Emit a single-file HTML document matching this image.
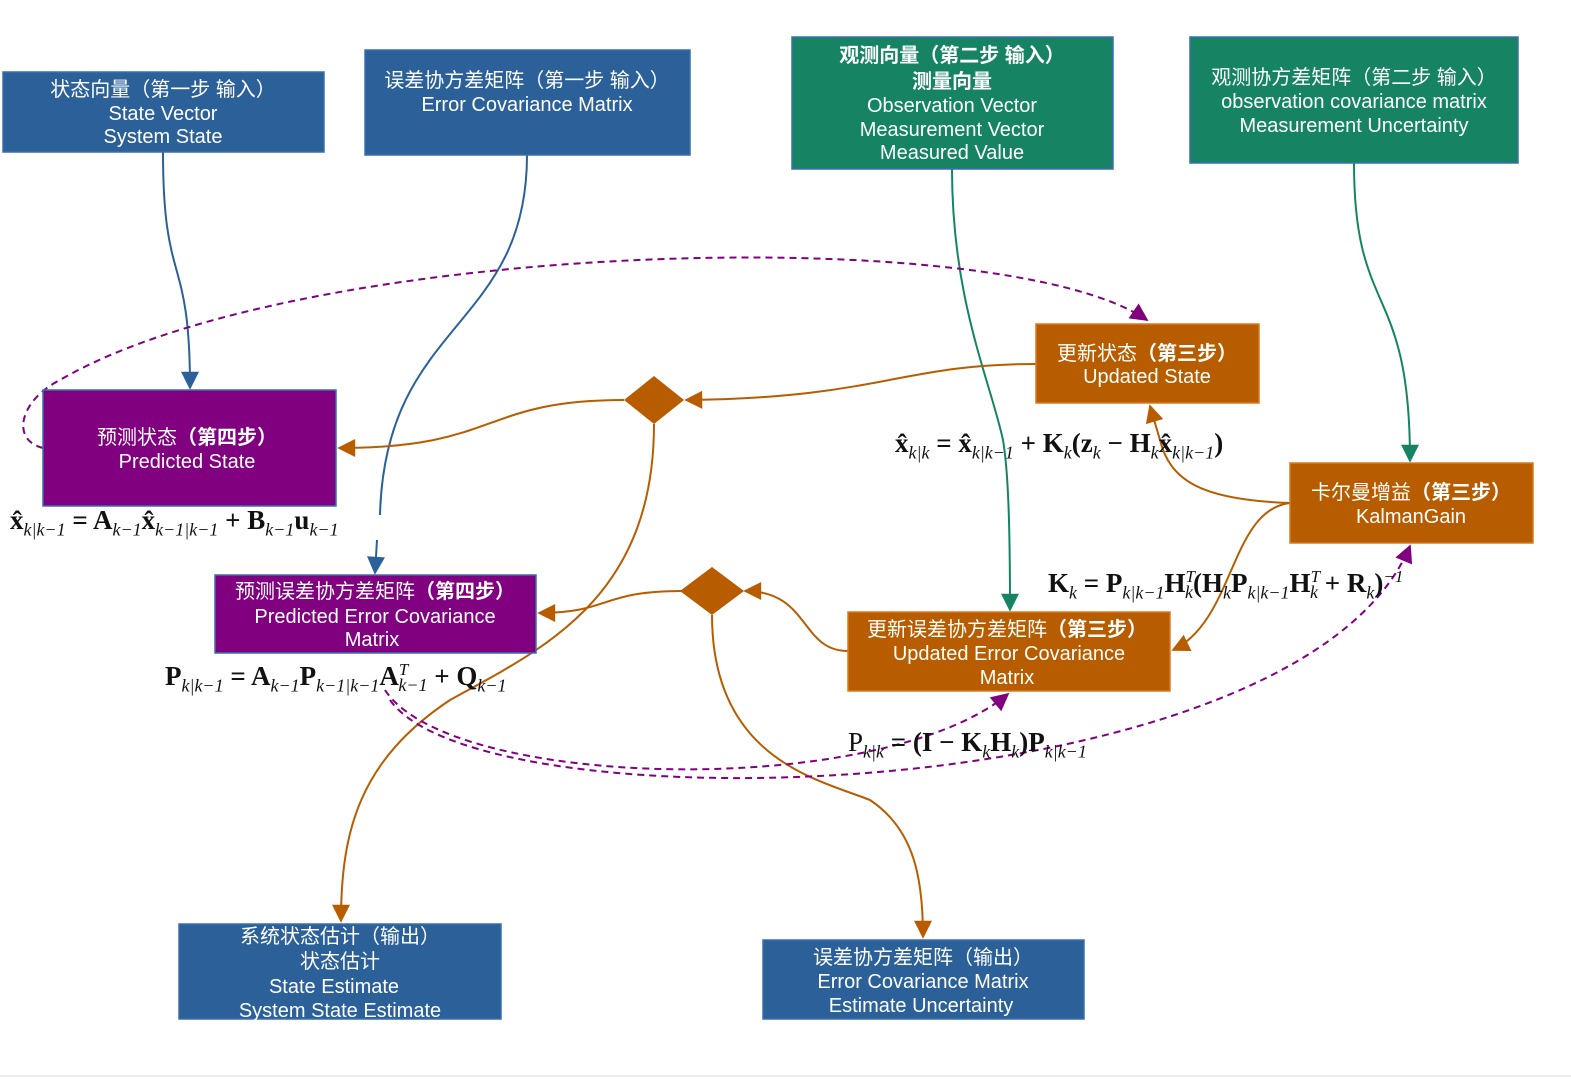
<!DOCTYPE html>
<html><head><meta charset="utf-8"><style>
body{margin:0;background:#fff;width:1571px;height:1086px;overflow:hidden;position:relative;font-family:"Liberation Sans","Noto Sans CJK SC",sans-serif}
.f{position:absolute;font-family:"Liberation Serif","DejaVu Serif",serif;font-size:27px;white-space:nowrap;color:#111;font-weight:bold}
.f i{font-weight:normal;font-size:18px}
.f sub{font-size:18px;font-style:italic;font-weight:normal}
.f sup{font-size:17px;font-style:italic;font-weight:normal}
</style></head><body>
<svg width="1571" height="1086" style="position:absolute;left:0;top:0">
<defs>
<marker id="ab" markerWidth="10" markerHeight="10" refX="9" refY="5" orient="auto" markerUnits="userSpaceOnUse" viewBox="0 0 10 10"><path d="M0,0L10,5L0,10z" fill="#2b6099"/></marker>
<marker id="ag" viewBox="0 0 10 10" refX="9" refY="5" markerWidth="20" markerHeight="18" orient="auto" markerUnits="userSpaceOnUse"><path d="M0,0L10,5L0,10z" fill="#168463"/></marker>
<marker id="ao" viewBox="0 0 10 10" refX="9" refY="5" markerWidth="20" markerHeight="18" orient="auto" markerUnits="userSpaceOnUse"><path d="M0,0L10,5L0,10z" fill="#b85c00"/></marker>
<marker id="ap" viewBox="0 0 10 10" refX="9" refY="5" markerWidth="20" markerHeight="18" orient="auto" markerUnits="userSpaceOnUse"><path d="M0,0L10,5L0,10z" fill="#800080"/></marker>
<marker id="ab2" viewBox="0 0 10 10" refX="9" refY="5" markerWidth="20" markerHeight="18" orient="auto" markerUnits="userSpaceOnUse"><path d="M0,0L10,5L0,10z" fill="#2b6099"/></marker>
</defs>
<g fill="none" stroke-width="2">
<path d="M163,152 C163,290 190,250 190,388" stroke="#2b6099" marker-end="url(#ab2)"/>
<path d="M527,155 C527,330 385,320 380,515" stroke="#2b6099"/>
<path d="M377,540 L375,573" stroke="#2b6099" marker-end="url(#ab2)"/>
<path d="M952,169 C952,300 990,380 1003,440 C1008,470 1010,520 1010,610" stroke="#168463" marker-end="url(#ag)"/>
<path d="M1354,163 C1354,320 1410,280 1410,461" stroke="#168463" marker-end="url(#ag)"/>
<path d="M1036,364 C900,364 880,398 686,400" stroke="#b85c00" marker-end="url(#ao)"/>
<path d="M624,400 C480,400 500,448 339,448" stroke="#b85c00" marker-end="url(#ao)"/>
<path d="M654,424 C654,600 540,650 450,700 C360,760 341,830 341,921" stroke="#b85c00" marker-end="url(#ao)"/>
<path d="M1290,503 C1200,500 1170,480 1160,440 L1150,406" stroke="#b85c00" marker-end="url(#ao)"/>
<path d="M1290,503 C1230,510 1235,620 1173,650" stroke="#b85c00" marker-end="url(#ao)"/>
<path d="M848,651 C800,651 810,591 745,591" stroke="#b85c00" marker-end="url(#ao)"/>
<path d="M682,591 C600,591 610,613 539,613" stroke="#b85c00" marker-end="url(#ao)"/>
<path d="M712,615 C712,760 820,780 870,800 C915,830 923,880 923,937" stroke="#b85c00" marker-end="url(#ao)"/>
<g stroke="#800080" stroke-dasharray="7,5">
<path d="M43,448 C10,440 20,400 60,380 C300,240 1000,220 1147,320" marker-end="url(#ap)"/>
<path d="M385,690 C450,790 880,800 1008,694" marker-end="url(#ap)"/>
<path d="M390,700 C480,830 1300,810 1410,546" marker-end="url(#ap)"/>
</g>
</g>
<path d="M654,376L684,400L654,424L624,400z" fill="#b85c00"/>
<path d="M712,567L744,591L712,615L680,591z" fill="#b85c00"/>
<g stroke="#3a6fb0" stroke-width="1.5">
<rect x="3" y="72" width="321" height="80" fill="#2b6099"/>
<rect x="365" y="50" width="325" height="105" fill="#2b6099"/>
<rect x="792" y="37" width="321" height="132" fill="#168463"/>
<rect x="1190" y="37" width="328" height="126" fill="#168463"/>
<rect x="43" y="390" width="293" height="116" fill="#800080"/>
<rect x="215" y="575" width="321" height="78" fill="#800080"/>
<rect x="179" y="924" width="322" height="95" fill="#2b6099"/>
<rect x="763" y="940" width="321" height="79" fill="#2b6099"/>
</g>
<g stroke="#d97a20" stroke-width="1.5">
<rect x="1036" y="324" width="223" height="79" fill="#b85c00"/>
<rect x="1290" y="463" width="243" height="80" fill="#b85c00"/>
<rect x="848" y="612" width="322" height="79" fill="#b85c00"/>
</g>
<g fill="#fff" font-size="20" text-anchor="middle" font-family="Liberation Sans,Noto Sans CJK SC,sans-serif">
<text x="163" y="96">状态向量（第一步 输入）</text><text x="163" y="120">State Vector</text><text x="163" y="143">System State</text>
<text x="527" y="87">误差协方差矩阵（第一步  输入）</text><text x="527" y="111">Error Covariance Matrix</text>
<text x="952" y="62" font-weight="bold">观测向量（第二步  输入）</text><text x="952" y="88" font-weight="bold">测量向量</text><text x="952" y="112">Observation Vector</text><text x="952" y="136">Measurement Vector</text><text x="952" y="159">Measured Value</text>
<text x="1354" y="84">观测协方差矩阵（第二步  输入）</text><text x="1354" y="108">observation covariance matrix</text><text x="1354" y="132">Measurement Uncertainty</text>
<text x="1147" y="360">更新状态<tspan font-weight="bold">（第三步）</tspan></text><text x="1147" y="383">Updated State</text>
<text x="187" y="444">预测状态<tspan font-weight="bold">（第四步）</tspan></text><text x="187" y="468">Predicted State</text>
<text x="1411" y="499">卡尔曼增益<tspan font-weight="bold">（第三步）</tspan></text><text x="1411" y="523">KalmanGain</text>
<text x="375" y="598">预测误差协方差矩阵<tspan font-weight="bold">（第四步）</tspan></text><text x="375" y="623">Predicted Error Covariance</text><text x="372" y="646">Matrix</text>
<text x="1007" y="636">更新误差协方差矩阵<tspan font-weight="bold">（第三步）</tspan></text><text x="1009" y="660">Updated Error Covariance</text><text x="1007" y="684">Matrix</text>
<text x="340" y="943">系统状态估计（输出）</text><text x="340" y="968">状态估计</text><text x="334" y="993">State Estimate</text><text x="340" y="1017">System State Estimate</text>
<text x="923" y="964">误差协方差矩阵（输出）</text><text x="923" y="988">Error Covariance Matrix</text><text x="921" y="1012">Estimate Uncertainty</text>
</g>
<line x1="0" y1="1076" x2="1571" y2="1076" stroke="#ddd"/>
</svg>
<div class="f" style="left:10px;top:505px">x̂<sub>k|k−1</sub> = A<sub>k−1</sub>x̂<sub>k−1|k−1</sub> + B<sub>k−1</sub>u<sub>k−1</sub></div>
<div class="f" style="left:165px;top:660px">P<sub>k|k−1</sub> = A<sub>k−1</sub>P<sub>k−1|k−1</sub>A<sup>T</sup><sub style="margin-left:-10px">k−1</sub> + Q<sub>k−1</sub></div>
<div class="f" style="left:895px;top:428px">x̂<sub>k|k</sub> = x̂<sub>k|k−1</sub> + K<sub>k</sub>(z<sub>k</sub> − H<sub>k</sub>x̂<sub>k|k−1</sub>)</div>
<div class="f" style="left:1048px;top:567px">K<sub>k</sub> = P<sub>k|k−1</sub>H<sup>T</sup><sub style="margin-left:-10px">k</sub>(H<sub>k</sub>P<sub>k|k−1</sub>H<sup>T</sup><sub style="margin-left:-10px">k</sub> + R<sub>k</sub>)<sup>−1</sup></div>
<div class="f" style="left:848px;top:727px"><span style="font-weight:normal">P</span><sub>k|k</sub> = (I − K<sub>k</sub>H<sub>k</sub>)P<sub>k|k−1</sub></div>
</body></html>
